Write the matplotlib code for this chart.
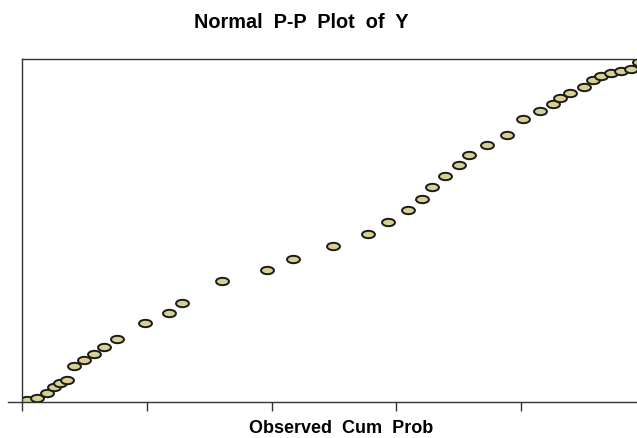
import matplotlib
matplotlib.use("Agg")
import matplotlib.pyplot as plt
from matplotlib.path import Path
from matplotlib.transforms import Affine2D
from matplotlib.lines import Line2D

# observed vs expected cumulative probability
observed_cum_prob = [0.007, 0.023, 0.039, 0.050, 0.061, 0.072, 0.082, 0.099, 0.115,
                     0.131, 0.152, 0.197, 0.235, 0.256, 0.321, 0.392, 0.435, 0.499,
                     0.555, 0.587, 0.619, 0.641, 0.657, 0.679, 0.701, 0.717, 0.745,
                     0.777, 0.803, 0.830, 0.852, 0.863, 0.879, 0.901, 0.916, 0.928,
                     0.944, 0.960, 0.976, 0.990]
expected_cum_prob = [0.005, 0.012, 0.026, 0.044, 0.054, 0.063, 0.105, 0.121, 0.139,
                     0.161, 0.182, 0.230, 0.259, 0.287, 0.352, 0.383, 0.417, 0.453,
                     0.488, 0.523, 0.558, 0.592, 0.626, 0.659, 0.690, 0.721, 0.749,
                     0.777, 0.826, 0.848, 0.868, 0.886, 0.902, 0.917, 0.940, 0.950,
                     0.958, 0.965, 0.972, 0.990]
x_ticks = [0.0, 0.2, 0.4, 0.6, 0.8]

plt.rcParams['font.family'] = ['Liberation Sans', 'DejaVu Sans']

fig = plt.figure(figsize=(6.37, 4.38), dpi=100)
# axes runs past the right edge, like the cropped original
ax = fig.add_axes([0.0353, 0.0829, 0.978, 0.7824])

# flat ellipse marker
ellipse = Path.unit_circle().transformed(Affine2D().scale(1.0, 0.57))

ax.plot(observed_cum_prob, expected_cum_prob, linestyle='none', marker=ellipse,
        markersize=9.3, markerfacecolor='#d8cf93', markeredgecolor='#1a1a1a',
        markeredgewidth=1.4)

ax.set_xlim(0, 1)
ax.set_ylim(0, 1)
ax.set_xticks(x_ticks)
ax.set_xticklabels([])
ax.set_yticks([])
ax.tick_params(axis='x', direction='out', length=6.5, width=1, color='#333333')
for side in ['left', 'top', 'bottom']:
    ax.spines[side].set_color('#333333')
    ax.spines[side].set_linewidth(1.0)
ax.spines['right'].set_visible(False)

# bottom axis line sticks out a bit on the left
ax.add_line(Line2D([-0.023, 0], [0, 0], transform=ax.transAxes, color='#333333',
                   linewidth=1.0, clip_on=False))

fig.text(301 / 637, 1 - 22 / 438, 'Normal  P-P  Plot  of  Y', ha='center', va='center',
         fontsize=14.3, fontweight='bold')
fig.text(341 / 637, 1 - 433 / 438, 'Observed  Cum  Prob', ha='center', va='baseline',
         fontsize=13, fontweight='bold')

fig.savefig('out.png', dpi=100, facecolor='white')
